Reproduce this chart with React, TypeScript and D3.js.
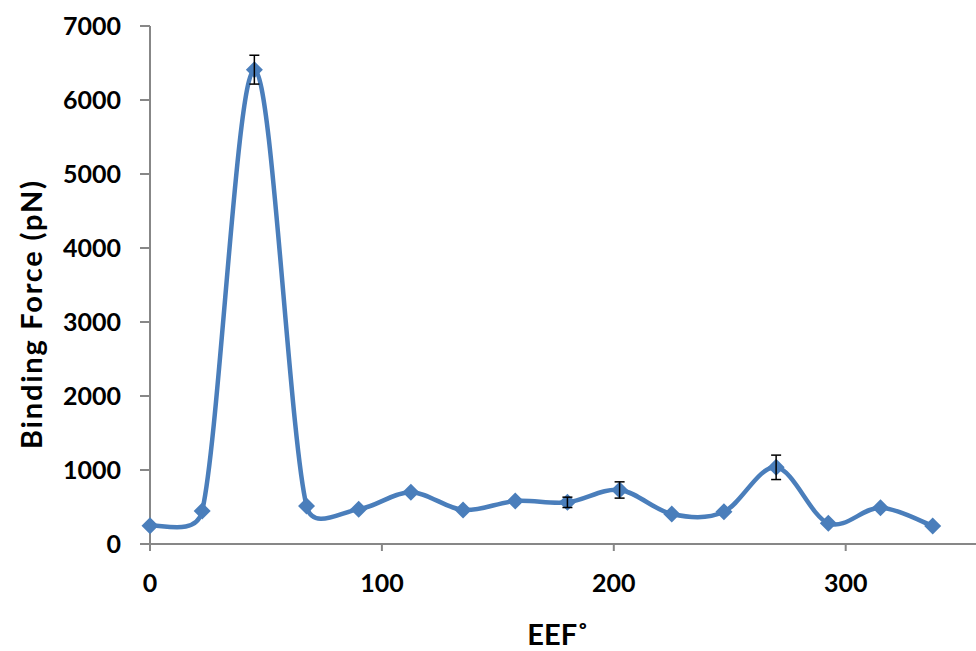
import React from "react";
import * as d3 from "d3";

const angles = [0, 22.5, 45, 67.5, 90, 112.5, 135, 157.5, 180, 202.5, 225, 247.5, 270, 292.5, 315, 337.5];
const forces = [247, 446, 6410, 513, 469, 700, 460, 581, 563, 730, 405, 436, 1036, 279, 491, 243];
const errors = [0, 0, 195, 0, 0, 0, 0, 0, 70, 110, 0, 0, 165, 0, 0, 0];
const xTicks = [0, 100, 200, 300];
const yTicks = [0, 1000, 2000, 3000, 4000, 5000, 6000, 7000];

const W = 976;
const H = 651;
const left = 150;
const top = 26;
const bottom = 544;

// Excel-style smoothed line (Bezier, tangent/6 limited to half the segment length)
function smoothPath(pts: [number, number][]): string {
  const n = pts.length;
  const dist = (a: [number, number], b: [number, number]) => Math.hypot(b[0] - a[0], b[1] - a[1]);
  const p = d3.path();
  p.moveTo(pts[0][0], pts[0][1]);
  for (let i = 0; i < n - 1; i++) {
    const p0 = pts[Math.max(0, i - 1)];
    const p1 = pts[i];
    const p2 = pts[i + 1];
    const p3 = pts[Math.min(n - 1, i + 2)];
    const d12 = dist(p1, p2);
    const d02 = dist(p0, p2);
    const d13 = dist(p1, p3);
    let f1 = 1 / 6;
    let f2 = 1 / 6;
    if (d02 / 6 >= d12 / 2 && d02 > 0) f1 = d12 / 2 / d02;
    if (d13 / 6 >= d12 / 2 && d13 > 0) f2 = d12 / 2 / d13;
    const c1x = p1[0] + (p2[0] - p0[0]) * f1;
    const c1y = p1[1] + (p2[1] - p0[1]) * f1;
    const c2x = p2[0] - (p3[0] - p1[0]) * f2;
    const c2y = p2[1] - (p3[1] - p1[1]) * f2;
    p.bezierCurveTo(c1x, c1y, c2x, c2y, p2[0], p2[1]);
  }
  return p.toString();
}

export default function App() {
  const x = d3.scaleLinear().domain([0, 100]).range([left, left + 231.9]);
  const y = d3.scaleLinear().domain([0, 7000]).range([bottom, top]);
  const pts: [number, number][] = angles.map((a, i) => [x(a), y(forces[i])]);
  const line = smoothPath(pts);
  const font = "Lato, 'Open Sans', sans-serif";
  const axisColor = "#878787";
  const blue = "#4A7EBB";
  const m = 8.5;
  return (
    <svg width={W} height={H} style={{ position: "absolute", left: 0, top: 0 }}>
      <rect width={W} height={H} fill="#fff" />
      <line x1={left} x2={left} y1={top} y2={bottom} stroke={axisColor} strokeWidth={2} />
      <line x1={left - 10} x2={W} y1={bottom} y2={bottom} stroke={axisColor} strokeWidth={2} />
      {yTicks.map((t) => (
        <g key={"y" + t}>
          <line x1={left - 10} x2={left} y1={y(t)} y2={y(t)} stroke={axisColor} strokeWidth={2} />
          <text x={121} y={y(t)} dy="0.36em" textAnchor="end" fontFamily={font} fontWeight={700} fontSize={25} fill="#000">
            {t}
          </text>
        </g>
      ))}
      {xTicks.map((t) => (
        <g key={"x" + t}>
          <line x1={x(t)} x2={x(t)} y1={bottom} y2={bottom + 7} stroke={axisColor} strokeWidth={2} />
          <text x={x(t)} y={592} textAnchor="middle" fontFamily={font} fontWeight={700} fontSize={25} fill="#000">
            {t}
          </text>
        </g>
      ))}
      <text
        transform={`translate(42,315) rotate(-90)`}
        textAnchor="middle"
        fontFamily={font}
        fontWeight={700}
        fontSize={29}
        textLength={268}
        lengthAdjust="spacing"
        fill="#000"
      >
        Binding Force (pN)
      </text>
      <text x={558} y={645} textAnchor="middle" fontFamily={font} fontWeight={700} fontSize={29} fill="#000">
        EEF˚
      </text>
      <path d={line} fill="none" stroke={blue} strokeWidth={4.5} strokeLinejoin="round" />
      {pts.map(([px, py], i) => (
        <path
          key={"m" + i}
          d={`M${px},${py - m}L${px + m},${py}L${px},${py + m}L${px - m},${py}Z`}
          fill={blue}
        />
      ))}
      {angles.map((a, i) =>
        errors[i] > 0 ? (
          <g key={"e" + i} stroke="#000" strokeWidth={1.5}>
            <line x1={x(a)} x2={x(a)} y1={y(forces[i] + errors[i])} y2={y(forces[i] - errors[i])} />
            <line x1={x(a) - 5} x2={x(a) + 5} y1={y(forces[i] + errors[i])} y2={y(forces[i] + errors[i])} />
            <line x1={x(a) - 5} x2={x(a) + 5} y1={y(forces[i] - errors[i])} y2={y(forces[i] - errors[i])} />
          </g>
        ) : null
      )}
    </svg>
  );
}
